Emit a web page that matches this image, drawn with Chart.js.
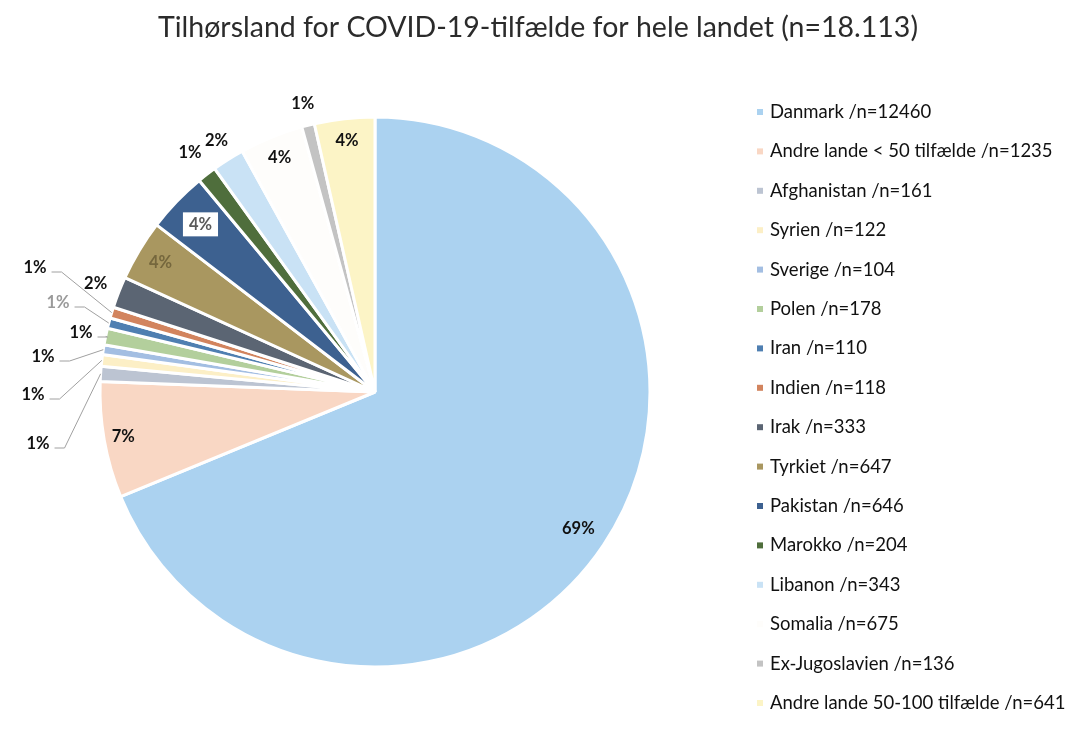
<!DOCTYPE html>
<html>
<head>
<meta charset="utf-8">
<script src="https://cdn.jsdelivr.net/npm/chart.js@4.4.0/dist/chart.umd.min.js"></script>
<style>
  html, body { margin: 0; padding: 0; background: #fff; }
  #chart { display: block; }
</style>
</head>
<body>
<canvas id="chart" width="1079" height="730"></canvas>
<script>
const titleText = "Tilhørsland for COVID-19-tilfælde for hele landet (n=18.113)";

const countries = [
  "Danmark", "Andre lande < 50 tilfælde", "Afghanistan", "Syrien", "Sverige",
  "Polen", "Iran", "Indien", "Irak", "Tyrkiet", "Pakistan", "Marokko",
  "Libanon", "Somalia", "Ex-Jugoslavien", "Andre lande 50-100 tilfælde"
];
const cases = [12460, 1235, 161, 122, 104, 178, 110, 118, 333, 647, 646, 204, 343, 675, 136, 641];

const sliceColors = [
  "#abd2f0", "#f9d7c4", "#bcc4d2", "#fcefc6", "#a3bee2", "#b3cf9c",
  "#4f7fb1", "#d2845e", "#5b6573", "#a99760", "#3d6190", "#4f6e3c",
  "#c9e2f5", "#fefdfb", "#c3c3c3", "#fcf4c6"
];

// where each percentage label goes: k = fraction of radius along the slice middle,
// or dx/dy from the centre with a leader line back to the slice
const labelSpots = [
  { k: 0.89 },
  { k: 0.93 },
  { dx: -337, dy: 52, leader: true },
  { dx: -342, dy: 3, leader: true },
  { dx: -332, dy: -35, leader: true },
  { dx: -294, dy: -59, leader: true },
  { dx: -317, dy: -89, leader: true, color: "#9a9a9a" },
  { dx: -340, dy: -124, leader: true },
  { k: 1.09 },
  { k: 0.91, color: "#75673d" },
  { k: 0.88, color: "#5a5a5a", box: true },
  { k: 1.1 },
  { k: 1.08 },
  { k: 0.92 },
  { k: 1.08 },
  { k: 0.92 }
];

const total = cases.reduce((a, b) => a + b, 0);

const pieLabels = {
  id: "pieLabels",
  afterDatasetsDraw(chart) {
    const ctx = chart.ctx;
    const arcs = chart.getDatasetMeta(0).data;
    ctx.save();
    ctx.font = "bold 16.5px Lato";
    ctx.textAlign = "center";
    ctx.textBaseline = "middle";
    arcs.forEach((arc, i) => {
      const spot = labelSpots[i];
      const mid = (arc.startAngle + arc.endAngle) / 2;
      const txt = Math.round(cases[i] / total * 100) + "%";
      const w = ctx.measureText(txt).width;
      let x, y;
      if (spot.leader) {
        x = arc.x + spot.dx;
        y = arc.y + spot.dy;
        const ex = arc.x + Math.cos(mid) * arc.outerRadius;
        const ey = arc.y + Math.sin(mid) * arc.outerRadius;
        ctx.strokeStyle = "#a0a0a0";
        ctx.lineWidth = 1;
        ctx.beginPath();
        ctx.moveTo(x + w / 2 + 5, y + 4);
        ctx.lineTo(x + w / 2 + 15, y + 4);
        ctx.lineTo(ex, ey);
        ctx.stroke();
      } else {
        x = arc.x + Math.cos(mid) * arc.outerRadius * spot.k;
        y = arc.y + Math.sin(mid) * arc.outerRadius * spot.k;
      }
      if (spot.box) {
        ctx.fillStyle = "#ffffff";
        ctx.fillRect(x - w / 2 - 6, y - 12, w + 12, 24);
      }
      ctx.fillStyle = spot.color || "#111111";
      ctx.fillText(txt, x, y);
    });
    ctx.restore();
  }
};

const sideLegend = {
  id: "sideLegend",
  afterDraw(chart) {
    const ctx = chart.ctx;
    ctx.save();
    // title
    ctx.fillStyle = "#2b2b2b";
    ctx.font = "28.5px Lato";
    ctx.textAlign = "center";
    ctx.textBaseline = "middle";
    ctx.fillText(titleText, 538, 28);
    // legend entries
    ctx.font = "18.5px Lato";
    ctx.textAlign = "left";
    countries.forEach((name, i) => {
      const y = 112 + i * 39.4;
      ctx.fillStyle = sliceColors[i];
      ctx.fillRect(757, y - 3, 6, 6);
      ctx.fillStyle = "#111111";
      ctx.fillText(name + " /n=" + cases[i], 770, y);
    });
    ctx.restore();
  }
};

new Chart(document.getElementById("chart"), {
  type: "pie",
  data: {
    labels: countries,
    datasets: [{
      data: cases,
      backgroundColor: sliceColors,
      borderColor: "#ffffff",
      borderWidth: 3,
      radius: 275
    }]
  },
  options: {
    responsive: false,
    animation: false,
    layout: { padding: { left: 100, top: 117, right: 429, bottom: 63 } },
    plugins: {
      legend: { display: false },
      title: { display: false },
      tooltip: { enabled: false }
    }
  },
  plugins: [pieLabels, sideLegend]
});
</script>
</body>
</html>
